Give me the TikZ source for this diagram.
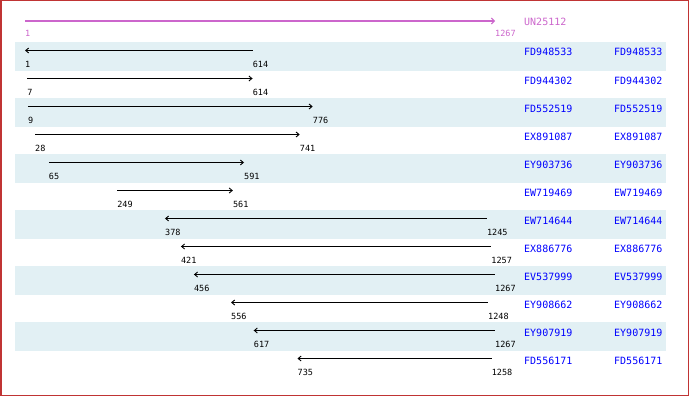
\documentclass[tikz,border=0pt]{standalone}
\usepackage{fontspec}
\newfontfamily\monofont{DejaVu Sans Mono}
\usetikzlibrary{arrows.meta}
\definecolor{stripe}{HTML}{E2F0F4}
\definecolor{frame}{HTML}{C03434}
\definecolor{scalemag}{HTML}{CC66CC}
\definecolor{accblue}{HTML}{0000FF}
\tikzset{
  numlbl/.style={anchor=base west,inner sep=0pt,font=\monofont\fontsize{8.5}{9}\selectfont,text=black},
  scalelbl/.style={numlbl,text=scalemag},
  acclbl/.style={anchor=base west,inner sep=0pt,font=\monofont\fontsize{10}{12}\selectfont,text=accblue},
  fwd/.style={draw=black,line width=0.9pt,-{Straight Barb[length=3pt,width=5pt]}},
  rev/.style={draw=black,line width=0.9pt,{Straight Barb[length=3pt,width=5pt]}-},
  scaleline/.style={draw=scalemag,line width=2pt,-{Straight Barb[length=3pt,width=6pt,line width=1pt]}},
  stripebox/.style={fill=stripe,draw=none}
}
\begin{document}
\begin{tikzpicture}[x=1pt,y=-1pt]
\useasboundingbox (0,0) rectangle (690,396);
\fill[white] (0,0) rectangle (690,396);
% stripes
\foreach \i in {1,3,5,7,9,11}{
  \pgfmathsetmacro\top{42+(\i-1)*28}
  \path[stripebox] (15,\top) rectangle (666,\top+29);
}
% scale
\coordinate (s0) at (25,21);
\coordinate (e0) at (495,21);
\draw[scaleline] (s0) -- (e0);
\node[scalelbl] (ls0) at (25,37) {1};
\node[scalelbl] (le0) at (495,37) {1267};
\node[acclbl,text=scalemag] (ref) at (524,26) {UN25112};
% rows
\foreach \i/\n/\a/\b/\d in {
  1/FD948533/1/614/rev,
  2/FD944302/7/614/fwd,
  3/FD552519/9/776/fwd,
  4/EX891087/28/741/fwd,
  5/EY903736/65/591/fwd,
  6/EW719469/249/561/fwd,
  7/EW714644/378/1245/rev,
  8/EX886776/421/1257/rev,
  9/EV537999/456/1267/rev,
  10/EY908662/556/1248/rev,
  11/EY907919/617/1267/rev,
  12/FD556171/735/1258/rev}{
  \pgfmathsetmacro\top{42+(\i-1)*28}
  \pgfmathsetmacro\xa{25+(\a-1)/1266*470}
  \pgfmathsetmacro\xb{25+(\b-1)/1266*470}
  \coordinate (s\i) at (\xa,\top+8.5);
  \coordinate (e\i) at (\xb,\top+8.5);
  \draw[\d] (s\i) -- (e\i);
  \node[numlbl] (ls\i) at (\xa,\top+25) {\a};
  \node[numlbl] (le\i) at (\xb,\top+25) {\b};
  \node[acclbl] (na\i) at (524,\top+14) {\n};
  \node[acclbl] (nb\i) at (614,\top+14) {\n};
}
% frame
\draw[frame,line width=1.5pt] (0.75,0.75) rectangle (688.5,395.25);
\end{tikzpicture}
\end{document}
